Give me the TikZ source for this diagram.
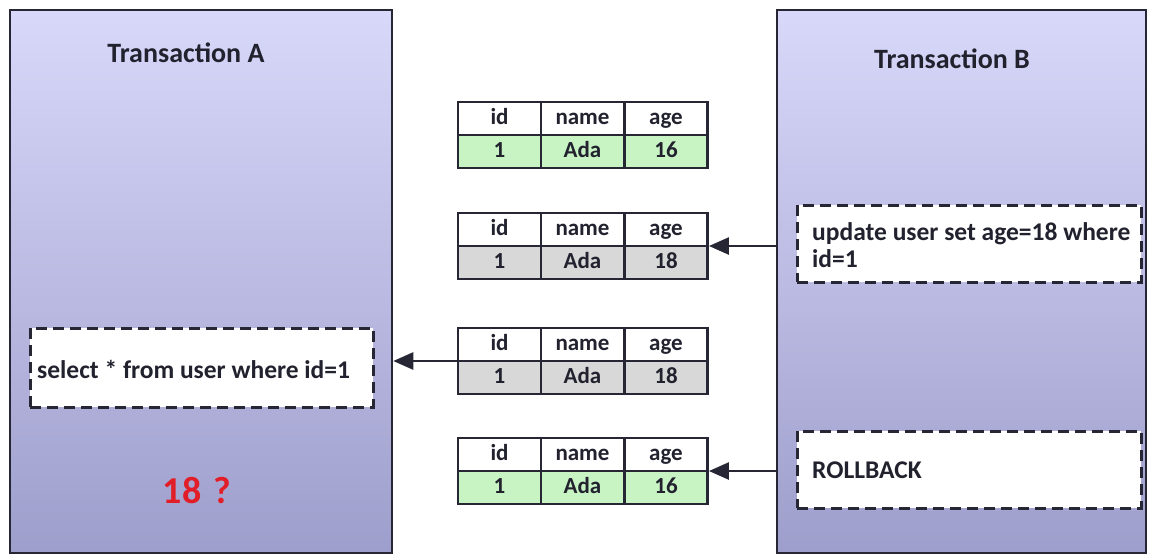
\documentclass[tikz,border=0pt]{standalone}
\usepackage{fontspec}
\setmainfont{Carlito}
\usetikzlibrary{arrows.meta,fit}

\definecolor{ink}{HTML}{22222F}
\definecolor{edge}{HTML}{262634}
\definecolor{paneltop}{RGB}{216,216,250}
\definecolor{panelbot}{RGB}{158,158,204}
\definecolor{rowgreen}{RGB}{200,244,196}
\definecolor{rowgrey}{RGB}{216,216,216}
\definecolor{alert}{RGB}{225,30,40}

\tikzset{
  panel/.style={draw=edge, line width=2.5pt, top color=paneltop, bottom color=panelbot, inner sep=0pt},
  paneltitle/.style={font=\fontsize{28}{32}\selectfont\bfseries, text=ink, anchor=base},
  stmt/.style={draw=edge, line width=3pt, dash pattern=on 11pt off 6pt, fill=white, inner sep=0pt},
  stmttext/.style={font=\fontsize{25.5}{27}\selectfont\bfseries, text=ink, align=left, inner sep=0pt},
  cell/.style={draw=edge, line width=2.5pt, minimum width=83pt, minimum height=33pt, inner sep=0pt,
               text height=15pt, text depth=4pt,
               font=\fontsize{23}{23}\selectfont\bfseries, text=ink},
  arr/.style={draw=edge, line width=2.5pt, -{Triangle[length=20pt,width=17pt]}},
}

% one row table: name, top edge, fill of data row, age value
\newcommand\dbtable[4]{%
  \node[cell, fill=white] (#1-h1) at (499.5,#2+16.5) {id};
  \node[cell, fill=white] (#1-h2) at (582.5,#2+16.5) {name};
  \node[cell, fill=white] (#1-h3) at (666,#2+16.5) {age};
  \node[cell, fill=#3] (#1-d1) at (499.5,#2+49.5) {1};
  \node[cell, fill=#3] (#1-d2) at (582.5,#2+49.5) {Ada};
  \node[cell, fill=#3] (#1-d3) at (666,#2+49.5) {#4};
  \node[fit=(#1-h1)(#1-d3), inner sep=0pt] (#1) {};
}

\begin{document}
\begin{tikzpicture}[x=1pt, y=-1pt]
  \useasboundingbox[fill=white] (0,0) rectangle (1150,557);

  % transaction panels
  \node[panel, minimum width=382pt, minimum height=543pt] (A) at (201,281.5) {};
  \node[panel, minimum width=369pt, minimum height=543pt] (B) at (961.5,281.5) {};
  \node[paneltitle] (Atitle) at (186,62) {Transaction A};
  \node[paneltitle] (Btitle) at (952,68) {Transaction B};

  % statements
  \node[stmt, minimum width=343pt, minimum height=79pt] (sel) at (201.5,367.5) {};
  \node[stmttext, anchor=west] (seltext) at (37,369) {select * from user where id=1};
  \node[stmt, minimum width=344pt, minimum height=77pt] (upd) at (969,243.5) {};
  \node[stmttext, anchor=west] (updtext) at (812,245) {update user set age=18 where\\id=1};
  \node[stmt, minimum width=344pt, minimum height=77pt] (rb) at (969,469.5) {};
  \node[stmttext, anchor=west] (rbtext) at (812,470) {ROLLBACK};

  % result read by A
  \node[font=\fontsize{38}{38}\selectfont\bfseries, text=alert] (res) at (197,491) {18\hspace{12pt}?};

  % row versions
  \dbtable{t1}{102}{rowgreen}{16}
  \dbtable{t2}{213}{rowgrey}{18}
  \dbtable{t3}{328}{rowgrey}{18}
  \dbtable{t4}{438}{rowgreen}{16}

  % flow
  \draw[arr] (B.west |- t2.east) -- (t2.east);
  \draw[arr] (t3.west) -- (t3.west -| A.east);
  \draw[arr] (B.west |- t4.east) -- (t4.east);
\end{tikzpicture}
\end{document}
